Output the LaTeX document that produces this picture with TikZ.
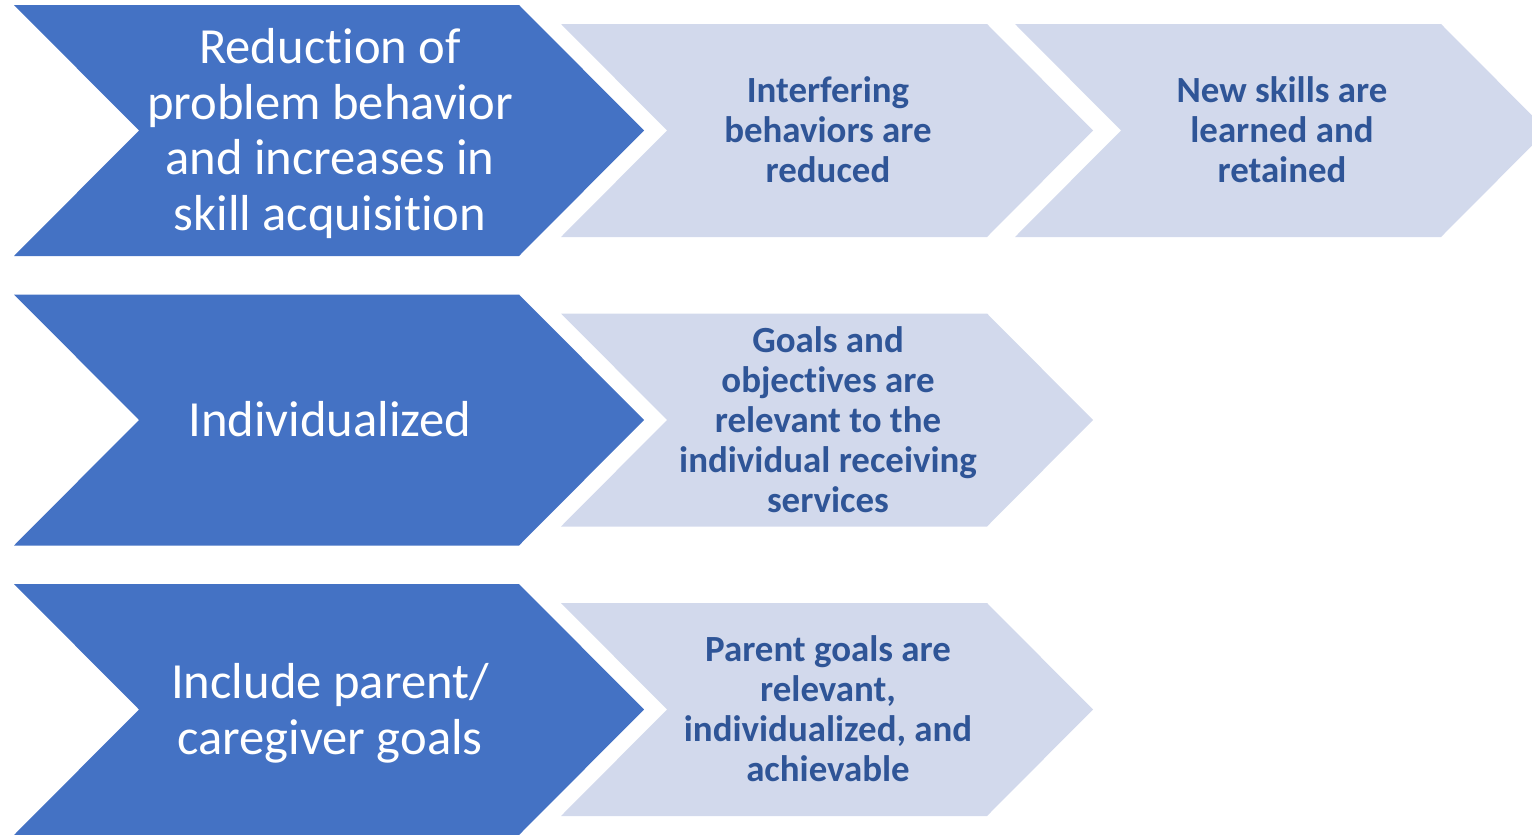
\documentclass[tikz,border=0pt]{standalone}
\usepackage{fontspec}
\setmainfont{Carlito}[Ligatures=NoCommon]
\definecolor{chevdark}{HTML}{4472C4}
\definecolor{chevlight}{HTML}{D2D9EC}
\definecolor{textdark}{HTML}{2F5597}
\tikzset{
	bigchev/.style={fill=chevdark},
	smallchev/.style={fill=chevlight},
	bigtext/.style={text=white, align=center, font=\fontsize{28.8}{31.8}\selectfont},
	smalltext/.style={text=textdark, align=center, font=\fontsize{21}{22.7}\selectfont\bfseries},
}
\begin{document}
\begin{tikzpicture}[x=0.02cm, y=-0.02cm]

		\useasboundingbox (0,0) rectangle (1532,835);

		% Row 1
		\begin{scope}
			\fill[bigchev] (14,5) -- (519,5) -- (644,130.5) -- (519,256) -- (14,256) -- (139,130.5) -- cycle;
			\fill[smallchev] (561,24) -- (987,24) -- (1093,130.5) -- (987,237) -- (561,237) -- (667,130.5) -- cycle;
			\fill[smallchev] (1015,24) -- (1441,24) -- (1547,130.5) -- (1441,237) -- (1015,237) -- (1121,130.5) -- cycle;
			\node[bigtext] (reduction) at (330,133.5) {Reduction of\\problem behavior\\and increases in\\skill acquisition};
			\node[smalltext] (interfering) at (828,130) {Interfering\\behaviors are\\reduced};
			\node[smalltext] (newskills) at (1282,130) {New skills are\\learned and\\retained};
		\end{scope}

		% Row 2
		\begin{scope}[shift={(0,289.5)}]
			\fill[bigchev] (14,5) -- (519,5) -- (644,130.5) -- (519,256) -- (14,256) -- (139,130.5) -- cycle;
			\fill[smallchev] (561,24) -- (987,24) -- (1093,130.5) -- (987,237) -- (561,237) -- (667,130.5) -- cycle;
			\node[bigtext] (individualized) at (330,130) {Individualized};
			\node[smalltext] (goals) at (828,130) {Goals and\\objectives are\\relevant to the\\individual receiving\\services};
		\end{scope}

		% Row 3
		\begin{scope}[shift={(0,579)}]
			\fill[bigchev] (14,5) -- (519,5) -- (644,130.5) -- (519,256) -- (14,256) -- (139,130.5) -- cycle;
			\fill[smallchev] (561,24) -- (987,24) -- (1093,130.5) -- (987,237) -- (561,237) -- (667,130.5) -- cycle;
			\node[bigtext] (include) at (330,134) {Include parent/\\caregiver goals};
			\node[smalltext] (parentgoals) at (828,130) {Parent goals are\\relevant,\\individualized, and\\achievable};
		\end{scope}

	\end{tikzpicture}
\end{document}
